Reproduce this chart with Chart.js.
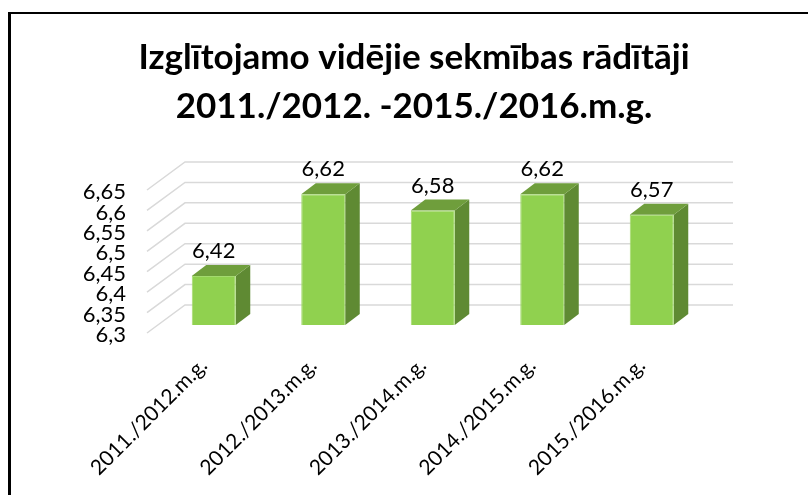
<!DOCTYPE html>
<html><head><meta charset="utf-8">
<style>html,body{margin:0;padding:0;background:#fff;width:808px;height:495px;overflow:hidden}
#wrap{position:absolute;left:0;top:0;width:808px;height:495px;overflow:hidden}
#frame{position:absolute;left:8px;top:12px;width:900px;height:600px;border-left:3px solid #000;border-top:2px solid #000;box-sizing:content-box}
canvas{position:absolute;left:0;top:0}
</style>
<script src="https://cdn.jsdelivr.net/npm/chart.js@4"></script></head>
<body><div id="wrap"><div id="frame"></div><canvas id="c" width="808" height="495"></canvas></div>
<script>
const titleLines = ['Izglītojamo vidējie sekmības rādītāji','2011./2012. -2015./2016.m.g.'];
const categories = ['2011./2012.m.g.','2012./2013.m.g.','2013./2014.m.g.','2014./2015.m.g.','2015./2016.m.g.'];
const values = [6.42,6.62,6.58,6.62,6.57];
const valueLabels = ['6,42','6,62','6,58','6,62','6,57'];
const yTickLabels = ['6,3','6,35','6,4','6,45','6,5','6,55','6,6','6,65'];
const FONT='Lato, Carlito, sans-serif';

const threeD={id:'threeD',
 beforeDatasetsDraw(chart){
  const {ctx,scales:{y}}=chart;
  ctx.save();ctx.strokeStyle='#d9d9d9';ctx.lineWidth=1.5;
  const x0=147,dx=38,fy=8,by=-20,xr=733;
  y.ticks.forEach(t=>{const p=y.getPixelForValue(t.value);
    ctx.beginPath();ctx.moveTo(x0,p+fy);ctx.lineTo(x0+dx,p+by);
    ctx.lineTo(xr,p+by);
    ctx.stroke();});
  ctx.restore();
  const m=chart.getDatasetMeta(0);
  const ddx=14.5,ddy=11;
  ctx.save();
  m.data.forEach(b=>{const w=b.width/2,l=b.x-w,r=b.x+w,t=b.y,bt=y.getPixelForValue(y.min);
    ctx.fillStyle='#5f8a33';ctx.beginPath();ctx.moveTo(r,t);ctx.lineTo(r+ddx,t-ddy);ctx.lineTo(r+ddx,bt-ddy);ctx.lineTo(r,bt);ctx.closePath();ctx.fill();
    ctx.fillStyle='#6f9e3c';ctx.beginPath();ctx.moveTo(l,t);ctx.lineTo(l+ddx,t-ddy);ctx.lineTo(r+ddx,t-ddy);ctx.lineTo(r,t);ctx.closePath();ctx.fill();
  });
  ctx.restore();
 },
 afterDatasetsDraw(chart){
  const {ctx}=chart;const m=chart.getDatasetMeta(0);
  ctx.save();ctx.fillStyle='#000';ctx.font='22px '+FONT;ctx.textAlign='center';ctx.textBaseline='middle';
  m.data.forEach((b,i)=>ctx.fillText(valueLabels[i],b.x,b.y-25));
  ctx.restore();
 }};

new Chart(document.getElementById('c'),{
 type:'bar',
 data:{labels:categories,datasets:[{data:values,base:6.3,backgroundColor:'#90d14f',borderColor:'#a4da6e',borderWidth:1,barPercentage:0.402,categoryPercentage:1}]},
 plugins:[threeD],
 options:{responsive:false,animation:false,
  layout:{padding:{left:20,right:0,top:0,bottom:0}},
  plugins:{legend:{display:false},tooltip:{enabled:false},
   title:{display:true,text:titleLines,color:'#000',font:{family:FONT,size:35,weight:'bold',lineHeight:1.4},padding:{top:33,bottom:51}}},
  scales:{
   x:{grid:{display:false,drawTicks:false},border:{display:false},
      afterFit(s){s.height=170;},
      ticks:{color:'#000',font:{family:FONT,size:21},minRotation:45,maxRotation:45,padding:28,labelOffset:-10,autoSkip:false}},
   y:{min:6.3,max:6.65,grid:{display:false,drawTicks:false},border:{display:false},
      afterFit(s){s.width=139;},
      ticks:{stepSize:0.05,autoSkip:false,color:'#000',font:{family:FONT,size:22},padding:33,labelOffset:10,
        callback(v,i){return yTickLabels[i];}}},
   yPad:{position:'right',min:0,max:1,grid:{display:false,drawTicks:false},border:{display:false},
      afterFit(s){s.width=101.5;},ticks:{display:false}}
  }}
});
</script></body></html>
